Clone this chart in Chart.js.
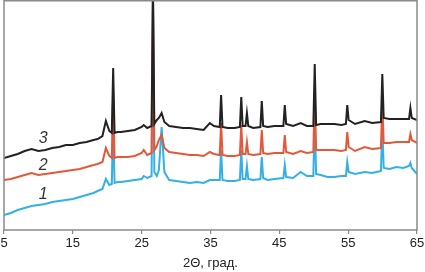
<!DOCTYPE html>
<html>
<head>
<meta charset="utf-8">
<script src="https://cdn.jsdelivr.net/npm/chart.js@4"></script>
<style>
  html, body { margin: 0; padding: 0; background: #fff; }
  #wrap { width: 425px; height: 272px; }
</style>
</head>
<body>
<div id="wrap"><canvas id="xrd"></canvas></div>
<script>
// 2Θ grid shared by the three patterns
const twoTheta = [5, 6, 7, 8, 9, 10, 11, 12, 13, 14, 15, 16, 17, 18, 18.6, 19.3, 19.8, 20.3, 20.66, 20.86, 21.06, 21.5, 22, 23, 24, 25, 25.3, 25.8, 26.44, 26.64, 26.84, 27.2, 27.5, 27.9, 28.3, 29, 30, 31, 32, 33, 34, 34.9, 35.5, 36.34, 36.54, 36.74, 37.5, 38.5, 39.27, 39.47, 39.67, 40.09, 40.29, 40.49, 41.2, 42.25, 42.45, 42.65, 43.3, 44.3, 45.59, 45.79, 45.99, 47, 48.1, 49, 49.94, 50.14, 50.34, 51, 52, 53, 54, 54.67, 54.87, 55.07, 56, 57.4, 58.5, 59.76, 59.96, 60.16, 61, 62, 63, 63.84, 64.04, 64.24, 65];

// intensity, arbitrary units (curves are offset vertically)
const pattern3 = [72, 74, 76, 79, 81, 79, 80, 82, 83, 85, 85, 87, 88, 90, 91, 94, 109, 99, 97, 162, 97, 98, 98, 99, 100, 103, 105, 102, 104, 240, 106, 110, 112, 117, 108, 104, 103, 102, 102, 101, 100, 107, 104, 103, 135, 103, 102, 102, 103, 133, 104, 104, 117, 104, 102, 103, 129, 104, 103, 104, 104, 125, 106, 104, 107, 104, 104, 166, 105, 106, 106, 106, 105, 106, 125, 110, 106, 109, 107, 108, 156, 112, 111, 111, 111, 111, 122, 112, 110];
const pattern2 = [50, 51, 53, 55, 57, 55, 56, 57, 58, 59, 60, 61, 63, 65, 66, 68, 82, 74, 72, 137, 72, 73, 73, 73, 74, 77, 80, 75, 77, 240, 80, 84, 90, 95, 82, 78, 77, 76, 75, 75, 74, 78, 76, 75, 107, 75, 74, 74, 75, 105, 76, 76, 88, 76, 75, 76, 100, 77, 76, 77, 77, 95, 78, 76, 79, 77, 78, 138, 80, 80, 80, 80, 79, 80, 98, 83, 79, 83, 81, 82, 130, 87, 87, 88, 88, 88, 96, 90, 87];
const pattern1 = [15, 17, 20, 22, 24, 25, 26, 28, 29, 30, 31, 33, 35, 37, 39, 41, 51, 45, 46, 112, 47, 48, 48, 49, 50, 51, 54, 52, 54, 240, 58, 54, 60, 103, 58, 50, 49, 48, 47, 48, 47, 50, 50, 50, 80, 50, 49, 49, 50, 80, 51, 51, 64, 51, 50, 51, 73, 52, 50, 51, 52, 65, 53, 52, 58, 54, 54, 115, 56, 55, 53, 53, 54, 54, 68, 58, 56, 58, 57, 59, 105, 62, 61, 63, 62, 64, 67, 62, 56];

const xTicks = [5, 15, 25, 35, 45, 55, 65];

function toPoints(vals) {
  return twoTheta.map((t, i) => ({ x: t, y: vals[i] }));
}

// frame around the plot area + curve numbers
const framePlugin = {
  id: 'frame',
  afterDraw(chart) {
    const ctx = chart.ctx;
    const a = chart.chartArea;
    const xs = chart.scales.x, ys = chart.scales.y;
    ctx.save();
    ctx.strokeStyle = '#8a8a8a';
    ctx.lineWidth = 1.5;
    ctx.strokeRect(a.left, a.top + 0.75, a.right - a.left, a.bottom - a.top - 0.75);
    ctx.fillStyle = '#333';
    ctx.font = 'italic 16px "Liberation Sans", Arial, sans-serif';
    ctx.textAlign = 'center';
    ctx.textBaseline = 'middle';
    [['3', 10.7, 91], ['2', 10.7, 64], ['1', 10.7, 35]].forEach(([s, x, y]) => {
      ctx.fillText(s, xs.getPixelForValue(x), ys.getPixelForValue(y));
    });
    ctx.restore();
  }
};

window.addEventListener('DOMContentLoaded', () => {
  const el = document.getElementById('xrd');
  new Chart(el, {
    type: 'line',
    data: {
      datasets: [
        { label: '3', data: toPoints(pattern3), borderColor: '#222222' },
        { label: '2', data: toPoints(pattern2), borderColor: '#e4583a' },
        { label: '1', data: toPoints(pattern1), borderColor: '#34b0e4' }
      ]
    },
    options: {
      responsive: true,
      maintainAspectRatio: false,
      animation: false,
      layout: { padding: { left: 4, right: 8, top: 0, bottom: 0 } },
      elements: {
        point: { radius: 0 },
        line: { borderWidth: 2, tension: 0 }
      },
      plugins: { legend: { display: false }, tooltip: { enabled: false } },
      scales: {
        x: {
          type: 'linear',
          min: 5,
          max: 65,
          afterBuildTicks: (s) => { s.ticks = xTicks.map(v => ({ value: v })); },
          afterFit: (s) => { s.paddingLeft = 0; s.paddingRight = 0; s.height = 42; },
          border: { display: false },
          grid: { drawOnChartArea: false, drawTicks: true, tickLength: 4, color: '#8a8a8a', lineWidth: 1.2 },
          ticks: {
            padding: 2,
            maxRotation: 0,
            color: '#222',
            font: { family: '"Liberation Sans", Arial, sans-serif', size: 13 }
          },
          title: {
            display: true,
            text: '2Θ, град.',
            color: '#222',
            padding: { top: 0, bottom: 1 },
            font: { family: '"Liberation Sans", Arial, sans-serif', size: 13 }
          }
        },
        y: {
          display: false,
          min: 0,
          max: 230
        }
      }
    },
    plugins: [framePlugin]
  });
});
</script>
</body>
</html>
